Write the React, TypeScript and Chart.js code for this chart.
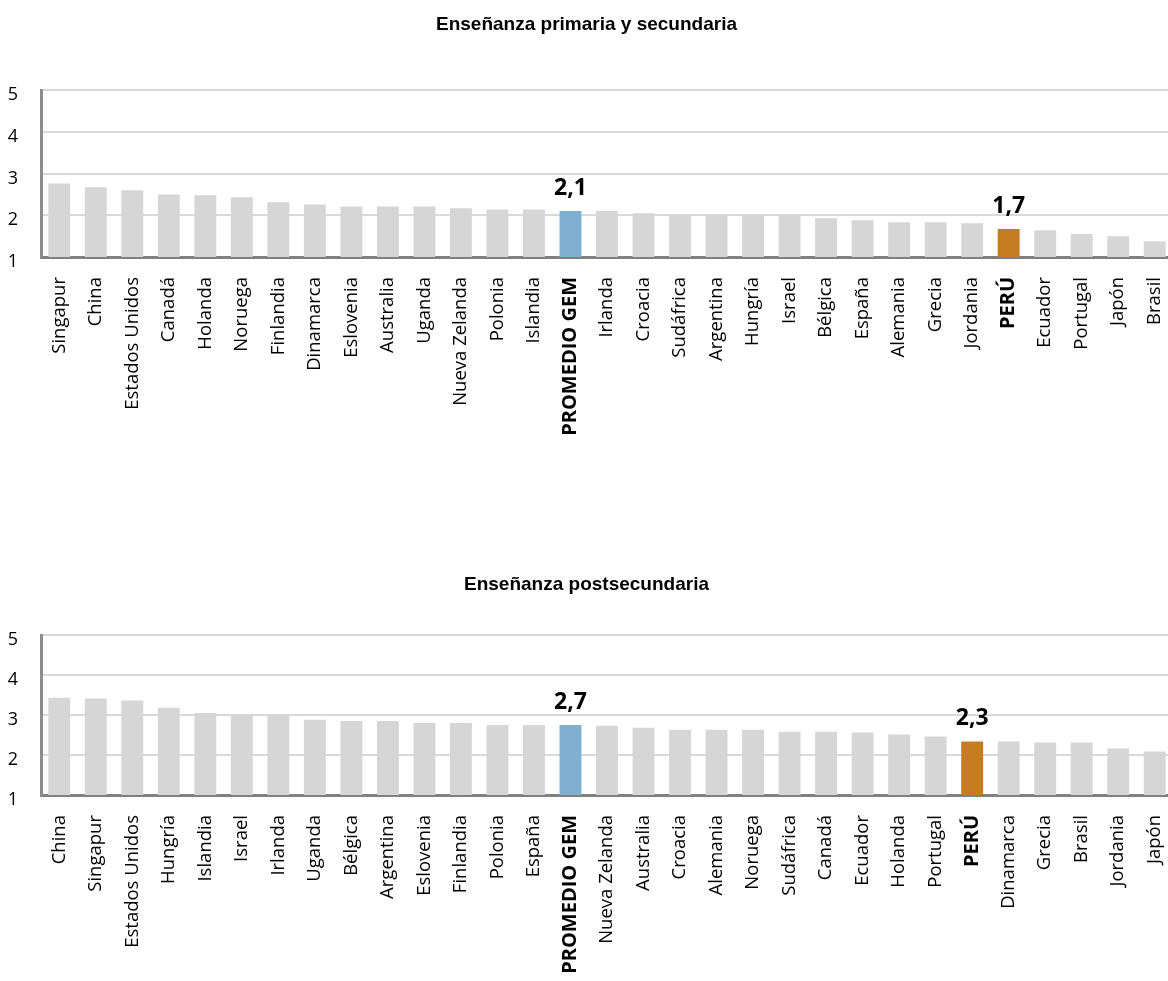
import React, { useEffect, useRef } from "react";
import { Chart, registerables } from "chart.js";

Chart.register(...registerables);

// ---------- Data ----------
const primariaTitle = "Enseñanza primaria y secundaria";
const primariaCategories = [
  "Singapur", "China", "Estados Unidos", "Canadá", "Holanda", "Noruega", "Finlandia",
  "Dinamarca", "Eslovenia", "Australia", "Uganda", "Nueva Zelanda", "Polonia", "Islandia",
  "PROMEDIO GEM", "Irlanda", "Croacia", "Sudáfrica", "Argentina", "Hungría", "Israel",
  "Bélgica", "España", "Alemania", "Grecia", "Jordania", "PERÚ", "Ecuador", "Portugal",
  "Japón", "Brasil",
];
const primariaValues = [
  2.76, 2.67, 2.6, 2.5, 2.48, 2.43, 2.31,
  2.26, 2.21, 2.21, 2.21, 2.17, 2.14, 2.14,
  2.1, 2.1, 2.05, 2.0, 2.0, 2.0, 2.0,
  1.93, 1.88, 1.83, 1.83, 1.81, 1.67, 1.64, 1.55,
  1.5, 1.38,
];
const primariaAnnotCats = ["PROMEDIO GEM", "PERÚ"];
const primariaAnnotTexts = ["2,1", "1,7"];

const postTitle = "Enseñanza postsecundaria";
const postCategories = [
  "China", "Singapur", "Estados Unidos", "Hungría", "Islandia", "Israel", "Irlanda",
  "Uganda", "Bélgica", "Argentina", "Eslovenia", "Finlandia", "Polonia", "España",
  "PROMEDIO GEM", "Nueva Zelanda", "Australia", "Croacia", "Alemania", "Noruega",
  "Sudáfrica", "Canadá", "Ecuador", "Holanda", "Portugal", "PERÚ", "Dinamarca",
  "Grecia", "Brasil", "Jordania", "Japón",
];
const postValues = [
  3.43, 3.41, 3.36, 3.18, 3.05, 3.0, 3.0,
  2.88, 2.85, 2.85, 2.8, 2.8, 2.75, 2.75,
  2.75, 2.73, 2.68, 2.63, 2.63, 2.63,
  2.58, 2.58, 2.56, 2.51, 2.46, 2.34, 2.34,
  2.31, 2.31, 2.16, 2.09,
];
const postAnnotCats = ["PROMEDIO GEM", "PERÚ"];
const postAnnotTexts = ["2,7", "2,3"];

const yMin = 1;
const yMax = 5;
const yStep = 1;

const highlightColors: Record<string, string> = {
  "PROMEDIO GEM": "#80b0cf",
  "PERÚ": "#c47d22",
};
const baseColor = "#d6d6d6";

// ---------- Plugin ----------
const annotPlugin = {
  id: "annot",
  afterDatasetsDraw(chart: any, _args: any, opts: any) {
    if (!opts || !opts.cats) return;
    const meta = chart.getDatasetMeta(0);
    const labels = chart.data.labels as string[];
    const ctx = chart.ctx;
    ctx.save();
    ctx.font = "bold 23px 'Open Sans'";
    ctx.fillStyle = "#000";
    ctx.textAlign = "center";
    ctx.textBaseline = "alphabetic";
    (opts.cats as string[]).forEach((c, i) => {
      const idx = labels.indexOf(c);
      const el = meta.data[idx];
      if (el) ctx.fillText(opts.texts[i], el.x, el.y - 16);
    });
    ctx.restore();
  },
};

type Props = {
  title: string;
  labels: string[];
  values: number[];
  annotCats: string[];
  annotTexts: string[];
  width: number;
  height: number;
  xAxisHeight: number;
  titlePadTop: number;
  titlePadBottom: number;
  top: number;
};

function BarChart(p: Props) {
  const ref = useRef<HTMLCanvasElement | null>(null);
  useEffect(() => {
    if (!ref.current) return;
    const colors = p.labels.map((l) => highlightColors[l] || baseColor);
    const chart = new Chart(ref.current, {
      type: "bar",
      data: {
        labels: p.labels,
        datasets: [
          {
            data: p.values,
            backgroundColor: colors,
            borderWidth: 0,
            barPercentage: 0.6,
            categoryPercentage: 1,
          },
        ],
      },
      options: {
        animation: false,
        responsive: false,
        layout: { padding: 0 },
        plugins: {
          legend: { display: false },
          tooltip: { enabled: false },
          title: {
            display: true,
            text: p.title,
            color: "#000",
            font: { family: "'Liberation Sans', Arial, sans-serif", size: 19, weight: "bold" },
            padding: { top: p.titlePadTop, bottom: p.titlePadBottom },
          },
          annot: { cats: p.annotCats, texts: p.annotTexts },
        } as any,
        scales: {
          x: {
            grid: { display: true, drawOnChartArea: false, drawTicks: false },
            border: { display: true, color: "#808080", width: 3 },
            ticks: {
              autoSkip: false,
              minRotation: 90,
              maxRotation: 90,
              padding: 20,
              color: "#000",
              font: (c: any) => {
                const lab = p.labels[c.index];
                const b = !!highlightColors[lab];
                return {
                  family: "'Open Sans', sans-serif",
                  size: b ? 20 : 18.5,
                  weight: b ? "bold" : "normal",
                };
              },
            },
            afterFit: (s: any) => {
              s.height = p.xAxisHeight;
              s.paddingLeft = 0;
              s.paddingRight = 0;
            },
          },
          y: {
            min: yMin,
            max: yMax,
            ticks: {
              stepSize: yStep,
              padding: 23,
              color: "#000",
              labelOffset: 5,
              font: { family: "'Open Sans', sans-serif", size: 18 },
            },
            grid: { color: "#d9d9d9", lineWidth: 2, drawTicks: false },
            border: { display: true, color: "#8c8c8c", width: 3 },
            afterFit: (s: any) => {
              s.width = 41;
            },
          },
        },
      } as any,
      plugins: [annotPlugin],
    });
    return () => chart.destroy();
  }, []);
  return (
    <canvas
      ref={ref}
      width={p.width}
      height={p.height}
      style={{ position: "absolute", left: 0, top: p.top, display: "block" }}
    />
  );
}

export default function App() {
  return (
    <div
      style={{
        position: "absolute",
        left: 0,
        top: 0,
        width: 1168,
        height: 981,
        overflow: "hidden",
        background: "#fff",
      }}
    >
      <BarChart
        title={primariaTitle}
        labels={primariaCategories}
        values={primariaValues}
        annotCats={primariaAnnotCats}
        annotTexts={primariaAnnotTexts}
        width={1173}
        height={460}
        xAxisHeight={203}
        titlePadTop={13.6}
        titlePadBottom={53.6}
        top={0}
      />
      <BarChart
        title={postTitle}
        labels={postCategories}
        values={postValues}
        annotCats={postAnnotCats}
        annotTexts={postAnnotTexts}
        width={1173}
        height={441}
        xAxisHeight={186}
        titlePadTop={33.6}
        titlePadBottom={38.6}
        top={540}
      />
    </div>
  );
}
